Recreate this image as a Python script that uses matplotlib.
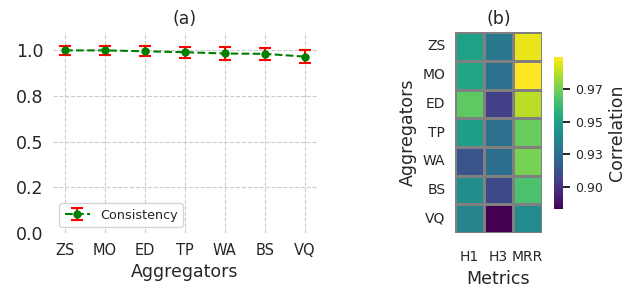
import numpy as np
import matplotlib
matplotlib.use("Agg")
import matplotlib.pyplot as plt
import seaborn as sns
from matplotlib.ticker import FormatStrFormatter

# --- data ---
aggregators = ["ZS", "MO", "ED", "TP", "WA", "BS", "VQ"]
consistency = [1.000, 1.000, 0.995, 0.990, 0.983, 0.981, 0.966]
consistency_err = [0.026, 0.026, 0.027, 0.031, 0.033, 0.031, 0.034]

metrics = ["H1", "H3", "MRR"]
h1 = [0.950, 0.952, 0.971, 0.948, 0.914, 0.940, 0.936]
h3 = [0.930, 0.927, 0.905, 0.927, 0.925, 0.909, 0.883]
mrr = [0.996, 1.000, 0.988, 0.973, 0.976, 0.967, 0.939]

sns.set_style("whitegrid", {"grid.linestyle": "--"})
plt.rcParams["font.family"] = ["DejaVu Sans"]

fig = plt.figure(figsize=(6.28, 2.92), dpi=100)

# --- (a) consistency line ---
ax1 = fig.add_axes([0.0844, 0.202, 0.420, 0.688])
x = np.arange(len(aggregators))
ax1.errorbar(x, consistency, yerr=consistency_err, fmt="o--", color="green",
             ecolor="red", capsize=4, elinewidth=1.5, capthick=1.5,
             markersize=5, linewidth=1.5, label="Consistency")
ax1.set_xticks(x)
ax1.set_xticklabels(aggregators, fontsize=10.5)
ax1.set_ylim(0, 1.1)
ax1.set_yticks([0, 0.25, 0.5, 0.75, 1.0])
ax1.yaxis.set_major_formatter(FormatStrFormatter("%.1f"))
ax1.tick_params(axis="y", labelsize=12.5)
ax1.set_xlabel("Aggregators", fontsize=12.5)
ax1.set_title("(a)", fontsize=12.5)
for s in ax1.spines.values():
    s.set_visible(False)
ax1.grid(True, linestyle="--", color="#cccccc", linewidth=0.8)
ax1.legend(loc="lower left", fontsize=9.2, frameon=True)

# --- (b) heatmap ---
ax2 = fig.add_axes([0.7245, 0.202, 0.1385, 0.688])
cax = fig.add_axes([0.882, 0.284, 0.0143, 0.521])
corr = np.column_stack([h1, h3, mrr])
sns.heatmap(corr, ax=ax2, cbar_ax=cax, cmap="viridis",
            linewidths=1, linecolor="gray",
            xticklabels=metrics, yticklabels=aggregators)
ax2.set_yticklabels(aggregators, rotation=0, fontsize=10)
ax2.set_xticklabels(metrics, rotation=0, fontsize=10)
ax2.tick_params(axis="x", pad=9)
ax2.set_xlabel("Metrics", fontsize=12.5)
ax2.set_ylabel("Aggregators", fontsize=12.5)
ax2.set_title("(b)", fontsize=12.5)
cax.set_yticks([0.9, 0.925, 0.95, 0.975])
cax.yaxis.set_major_formatter(FormatStrFormatter("%.2f"))
cax.tick_params(labelsize=9, length=5, width=1.2, color="black", right=True)
cax.set_ylabel("Correlation", fontsize=12.5)
for s in cax.spines.values():
    s.set_visible(False)

fig.savefig("out.png", dpi=100)
